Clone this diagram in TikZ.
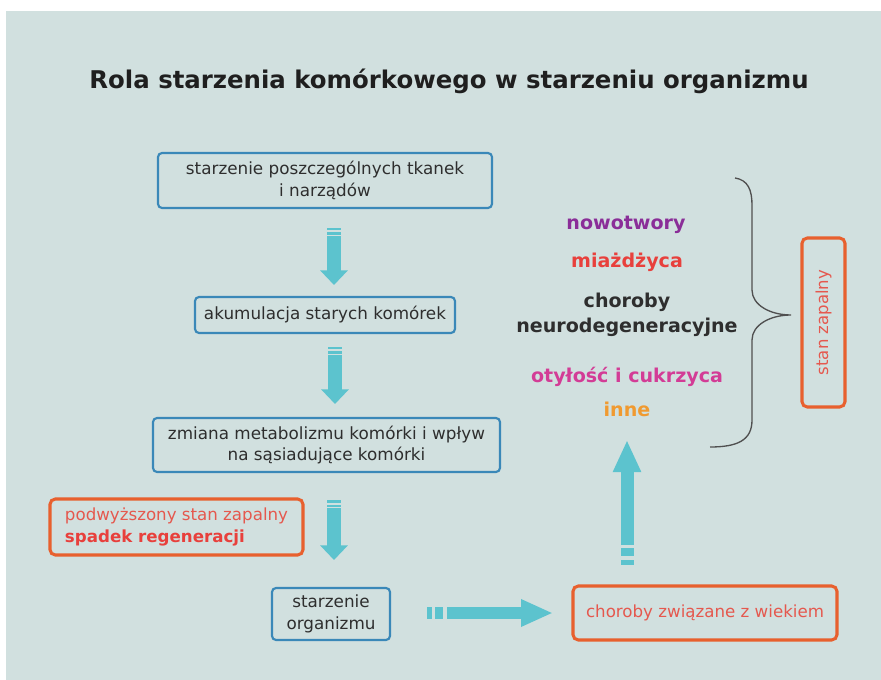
\documentclass[tikz,border=0pt]{standalone}
\usepackage{fontspec}
\setmainfont{DejaVu Sans}
\usetikzlibrary{arrows.meta}
\definecolor{bgc}{HTML}{D1E0DF}
\definecolor{bluec}{HTML}{3A88B8}
\definecolor{redc}{HTML}{E8602E}
\definecolor{cyanc}{HTML}{5CC3CE}
\definecolor{txtc}{HTML}{2E2E2E}
\definecolor{salmonc}{HTML}{E5584E}
\definecolor{purplec}{HTML}{8A2E98}
\definecolor{miac}{HTML}{E8403C}
\definecolor{magc}{HTML}{D33C96}
\definecolor{orgc}{HTML}{F09A30}
\definecolor{bracec}{HTML}{505050}
\tikzset{
  bluebox/.style={draw=bluec, line width=1.6pt, rounded corners=3pt, inner sep=0pt, align=center, text=txtc, font=\fontsize{12.6}{16}\selectfont},
  redbox/.style={draw=redc, line width=2.3pt, rounded corners=4pt, inner sep=0pt, font=\fontsize{12.5}{16}\selectfont},
  vbody/.style={draw=cyanc, line width=10.5pt, -{Triangle[width=20.25pt,length=11pt]}},
  hbody/.style={draw=cyanc, line width=9pt, -{Triangle[width=19pt,length=24pt]}},
  ubody/.style={draw=cyanc, line width=9.75pt, -{Triangle[width=19.5pt,length=24pt]}},
  stripe/.style={fill=cyanc},
  dis/.style={font=\bfseries\fontsize{14.3}{18}\selectfont, inner sep=0pt}
}
\begin{document}
\begin{tikzpicture}[x=0.75pt,y=-0.75pt]
\useasboundingbox (0,0) rectangle (881,680);
\fill[white] (0,0) rectangle (881,680);
\fill[bgc] (6,11) rectangle (881,680);
% title
\node[font=\bfseries\fontsize{18.3}{22}\selectfont, text=black!88] (title) at (449,81) {Rola starzenia komórkowego w starzeniu organizmu};
% left column boxes
\node[bluebox, minimum width=334*0.75pt, minimum height=55*0.75pt] (b1) at (325,180.5) {starzenie poszczególnych tkanek\\i narządów};
\node[bluebox, minimum width=260*0.75pt, minimum height=36*0.75pt] (b2) at (325,315) {akumulacja starych komórek};
\node[bluebox, minimum width=347*0.75pt, minimum height=54*0.75pt] (b3) at (326.5,445) {zmiana metabolizmu komórki i wpływ\\na sąsiadujące komórki};
\node[redbox, minimum width=253*0.75pt, minimum height=56*0.75pt, align=left] (r1) at (176.5,527) {\textcolor{salmonc}{podwyższony stan zapalny}\\\textcolor{miac}{\bfseries spadek regeneracji}};
\node[bluebox, minimum width=118*0.75pt, minimum height=52*0.75pt] (b4) at (331,614) {starzenie\\organizmu};
\node[redbox, minimum width=264*0.75pt, minimum height=54*0.75pt, text=salmonc] (r2) at (705,613) {choroby związane z wiekiem};
\node[redbox, minimum width=43*0.75pt, minimum height=169*0.75pt, text=salmonc] (r3) at (823.5,322.5) {};
\node[rotate=90, text=salmonc, font=\fontsize{12.4}{14}\selectfont, inner sep=0pt] (r3t) at (r3.center) {stan zapalny};
% disease list
\node[dis, text=purplec] (d1) at (626,225) {nowotwory};
\node[dis, text=miac] (d2) at (627,262) {miażdżyca};
\node[dis, text=txtc, align=center, font=\bfseries\fontsize{14.3}{18.7}\selectfont] (d3) at (627,315) {choroby\\neurodegeneracyjne};
\node[dis, text=magc] (d4) at (627,377) {otyłość i cukrzyca};
\node[dis, text=orgc] (d5) at (627,409) {inne};
% brace
\coordinate (brtop) at (735,178);
\coordinate (brtip) at (791,315);
\coordinate (brbot) at (710,447);
\draw[bracec, line width=1pt] (brtop) .. controls (748,180) and (752,190) .. (752,205) -- (752,290) .. controls (752,305) and (770,315) .. (brtip) .. controls (770,315) and (752,325) .. (752,340) -- (752,420) .. controls (752,440) and (738,447) .. (brbot);
% down arrows
\coordinate (a1s) at (334,236); \coordinate (a1e) at (334,285);
\fill[stripe] (327,228) rectangle (341,230.5);
\fill[stripe] (327,232.5) rectangle (341,235);
\draw[vbody] (a1s) -- (a1e);
\coordinate (a2s) at (335,355); \coordinate (a2e) at (335,404);
\fill[stripe] (328,347) rectangle (342,349.5);
\fill[stripe] (328,351.5) rectangle (342,354);
\draw[vbody] (a2s) -- (a2e);
\coordinate (a3s) at (334,508); \coordinate (a3e) at (334,560);
\fill[stripe] (327,500) rectangle (341,502.5);
\fill[stripe] (327,504.5) rectangle (341,507);
\draw[vbody] (a3s) -- (a3e);
% horizontal arrow
\coordinate (hs) at (447,613); \coordinate (he) at (553,613);
\fill[stripe] (427,607) rectangle (432,619);
\fill[stripe] (435,607) rectangle (443,619);
\draw[hbody] (hs) -- (he);
% up arrow
\coordinate (us) at (627,545); \coordinate (ue) at (627,440);
\fill[stripe] (620.5,548) rectangle (633.5,556);
\fill[stripe] (620.5,560) rectangle (633.5,565);
\draw[ubody] (us) -- (ue);
\end{tikzpicture}
\end{document}
